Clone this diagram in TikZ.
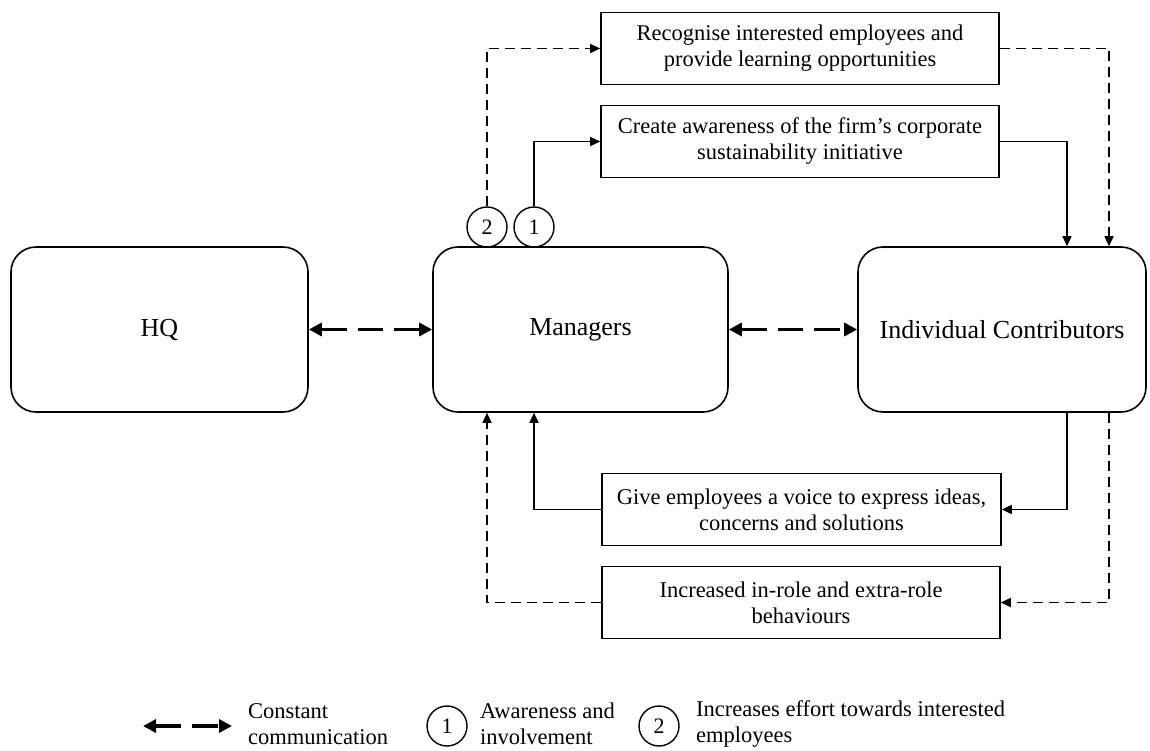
\documentclass[tikz,border=0pt]{standalone}
\usepackage{fontspec}
\setmainfont{Liberation Serif}
\usetikzlibrary{arrows.meta,positioning}

\begin{document}
\begin{tikzpicture}[x=1pt,y=-1pt,
  rbox/.style={draw, line width=1.6pt, rounded corners=25pt, minimum height=165pt, font=\fontsize{26}{30}\selectfont},
  box/.style={draw, line width=1.6pt, minimum width=398pt, minimum height=72pt, align=center, font=\fontsize{22.5}{26}\selectfont},
  num/.style={draw, circle, line width=1.4pt, minimum size=40pt, inner sep=0pt, font=\fontsize{22}{22}\selectfont},
  flow/.style={-{Triangle[length=10pt,width=9pt]}, line width=1.5pt},
  flowd/.style={flow, dash pattern=on 10pt off 6pt},
  comm/.style={{Triangle[length=13pt,width=13pt]}-{Triangle[length=13pt,width=13pt]}, line width=3.6pt, dash pattern=on 26pt off 11pt on 25pt off 11pt},
  legtxt/.style={anchor=west, align=left, inner sep=0pt, font=\fontsize{22.5}{25.5}\selectfont}
]
\useasboundingbox (0,0) rectangle (1150,751);

% main blocks
\node[rbox, minimum width=297pt] (hq) at (159.5,329.5) {HQ};
\node[rbox, minimum width=295pt] (mgr) at (580.5,329.5) {Managers};
\node[rbox, minimum width=288pt] (ic) at (1002,329.5) {Individual Contributors};

% actions
\node[box] (rec) at (800,48.5) {Recognise interested employees and\\provide learning opportunities};
\node[box] (crt) at (800,141.5) {Create awareness of the firm’s corporate\\sustainability initiative};
\node[box, minimum width=399pt] (give) at (801.5,509.5) {Give employees a voice to express ideas,\\concerns and solutions};
\node[box] (incr) at (801,602.5) {Increased in-role and extra-role\\behaviours};

\node[num] (c2) at (487,227) {2};
\node[num] (c1) at (534,227) {1};

% communication
\draw[comm] (hq) -- (mgr);
\draw[comm] (mgr) -- (ic);

% top loop
\draw[flow] (c1.north) |- (crt.west);
\draw[flowd] (c2.north) |- (rec.west);
\draw[flow] (crt.east) -| ([xshift=65pt]ic.north);
\draw[flowd] (rec.east) -| ([xshift=107pt]ic.north);

% bottom loop
\draw[flow] ([xshift=65pt]ic.south) |- (give.east);
\draw[flowd] ([xshift=107pt]ic.south) |- (incr.east);
\draw[flow] (give.west) -| (mgr.south -| c1);
\draw[flowd] (incr.west) -| (mgr.south -| c2);

% legend
\coordinate (lgA) at (143,726);
\coordinate (lgB) at (232,726);
\draw[comm, dash pattern=on 26pt off 11pt] (lgA) -- (lgB);
\node[legtxt] (lg1) at (248,724) {Constant\\communication};
\node[num] (lc1) at (447,726) {1};
\node[legtxt] (lg2) at (480,724) {Awareness and\\involvement};
\node[num] (lc2) at (659,726) {2};
\node[legtxt] (lg3) at (696,724) {Increases effort towards interested\\employees};
\end{tikzpicture}
\end{document}
